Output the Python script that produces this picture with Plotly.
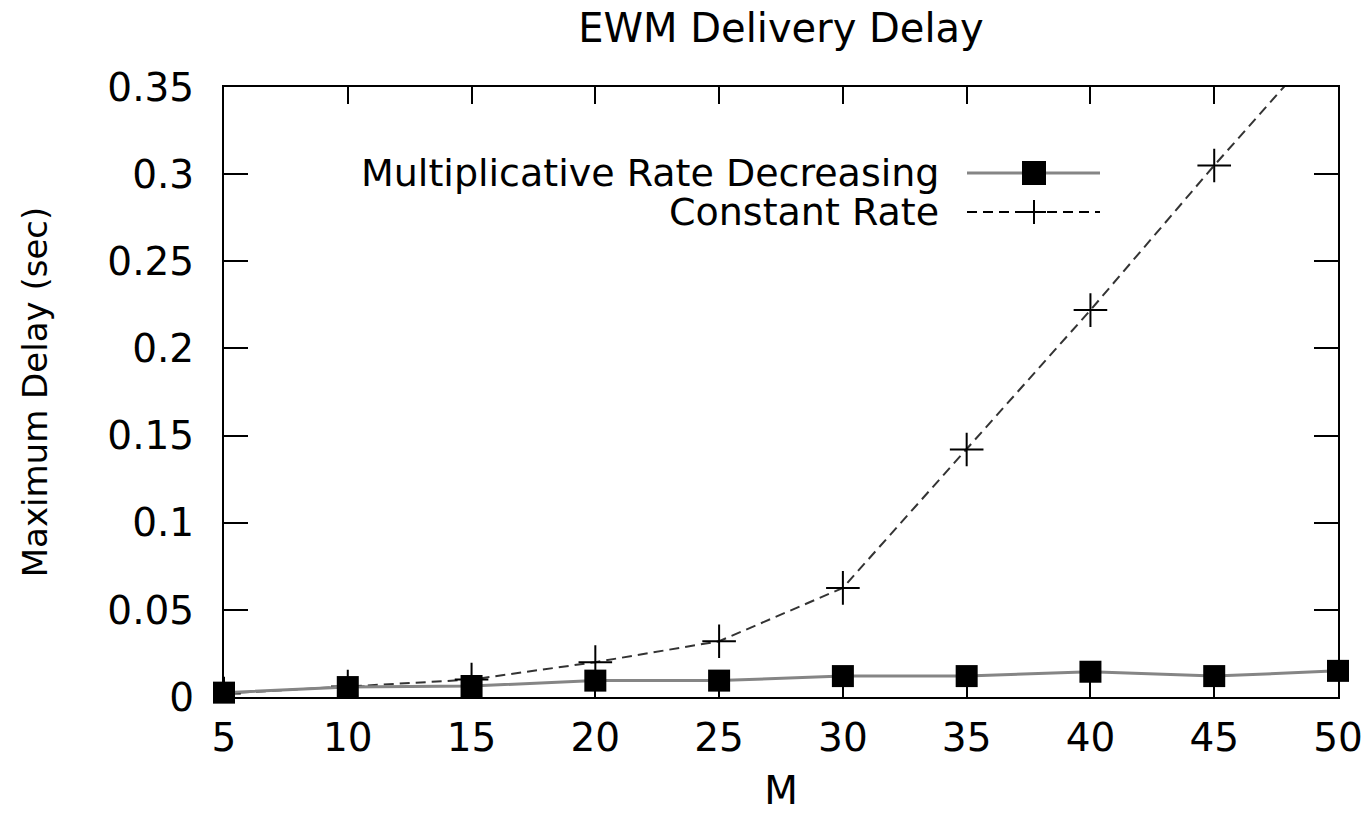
import plotly.graph_objects as go

# ---- data ----
m_values = [5, 10, 15, 20, 25, 30, 35, 40, 45, 50]
mult_rate_decreasing = [0.0025, 0.0057, 0.0063, 0.0094, 0.0094, 0.012, 0.012, 0.0145, 0.012, 0.015]
constant_rate = [0.002, 0.006, 0.010, 0.020, 0.032, 0.0626, 0.142, 0.222, 0.305, 0.385]
series_names = ["Multiplicative Rate Decreasing", "Constant Rate"]
y_ticks = [0, 0.05, 0.1, 0.15, 0.2, 0.25, 0.3, 0.35]
y_tick_labels = ["0", "0.05", "0.1", "0.15", "0.2", "0.25", "0.3", "0.35"]
x_ticks = [5, 10, 15, 20, 25, 30, 35, 40, 45, 50]

FONT = "DejaVu Sans"
MULT_COLOR = "#858585"
CONST_COLOR = "#333333"

fig = go.Figure()

fig.add_trace(go.Scatter(
    x=m_values, y=constant_rate, name=series_names[1], mode="lines+markers",
    line=dict(color=CONST_COLOR, width=2, dash="10px,6px"),
    marker=dict(symbol="cross-thin", size=24, line=dict(color="black", width=2)),
    showlegend=False,
))
fig.add_trace(go.Scatter(
    x=m_values, y=mult_rate_decreasing, name=series_names[0], mode="lines+markers",
    line=dict(color=MULT_COLOR, width=3),
    marker=dict(symbol="square", size=22, color="black"),
    cliponaxis=False, showlegend=False,
))

# ---- custom legend (text right-aligned, sample to the right) ----
L = 224; R = 1338; T = 87; B = 697
W = 1369; H = 813
pw = R - L; ph = B - T

def px(xp):
    return (xp - L) / pw

def py(yp):
    return (B - yp) / ph

legend_rows = [(173, series_names[0]), (212, series_names[1])]
for yp, name in legend_rows:
    fig.add_annotation(x=px(940), y=py(yp), xref="paper", yref="paper", text=name,
                       showarrow=False, xanchor="right", yanchor="middle", borderpad=0,
                       font=dict(family=FONT, size=38, color="black"))

# sample 1: grey solid line + black square
fig.add_shape(type="line", xref="paper", yref="paper", x0=px(967), x1=px(1100), y0=py(173), y1=py(173),
              line=dict(color=MULT_COLOR, width=3))
fig.add_shape(type="rect", xref="paper", yref="paper", x0=px(1022), x1=px(1046), y0=py(161), y1=py(185),
              line=dict(width=0), fillcolor="black")
# sample 2: dashed line + plus
fig.add_shape(type="line", xref="paper", yref="paper", x0=px(967), x1=px(1100), y0=py(212), y1=py(212),
              line=dict(color="black", width=2, dash="10px,6px"))
fig.add_shape(type="line", xref="paper", yref="paper", x0=px(1022), x1=px(1046), y0=py(212), y1=py(212),
              line=dict(color="black", width=2))
fig.add_shape(type="line", xref="paper", yref="paper", x0=px(1034), x1=px(1034), y0=py(200), y1=py(224),
              line=dict(color="black", width=2))

fig.update_layout(
    width=W, height=H,
    margin=dict(l=L, r=W - R, t=T, b=H - B, autoexpand=False),
    paper_bgcolor="white", plot_bgcolor="white",
    font=dict(family=FONT, size=39, color="black"),
    title=dict(text="EWM Delivery Delay", x=(L + R) / 2 / W, xanchor="center",
               y=1 - 28 / H, yanchor="middle", font=dict(family=FONT, size=40, color="black")),
    xaxis=dict(range=[5, 50], tickvals=x_ticks, ticks="inside", ticklen=17, tickwidth=2,
               tickcolor="black", showline=True, linecolor="black", linewidth=2, mirror="ticks",
               showgrid=False, zeroline=False, automargin=False, ticklabelstandoff=5,
               title=dict(text="M", font=dict(family=FONT, size=39), standoff=23),
               tickfont=dict(family=FONT, size=39)),
    yaxis=dict(range=[0, 0.35], tickvals=y_ticks, ticktext=y_tick_labels, ticks="inside", ticklen=24,
               tickwidth=2, tickcolor="black", showline=True, linecolor="black", linewidth=2,
               mirror="ticks", showgrid=False, zeroline=False, automargin=False, ticklabelstandoff=20,
               title=dict(text="Maximum Delay (sec)", font=dict(family=FONT, size=34), standoff=49),
               tickfont=dict(family=FONT, size=39)),
)

fig.write_html("out.html", config={"displayModeBar": False},
               post_script="document.body.style.margin='0px';document.body.style.overflow='hidden';")
